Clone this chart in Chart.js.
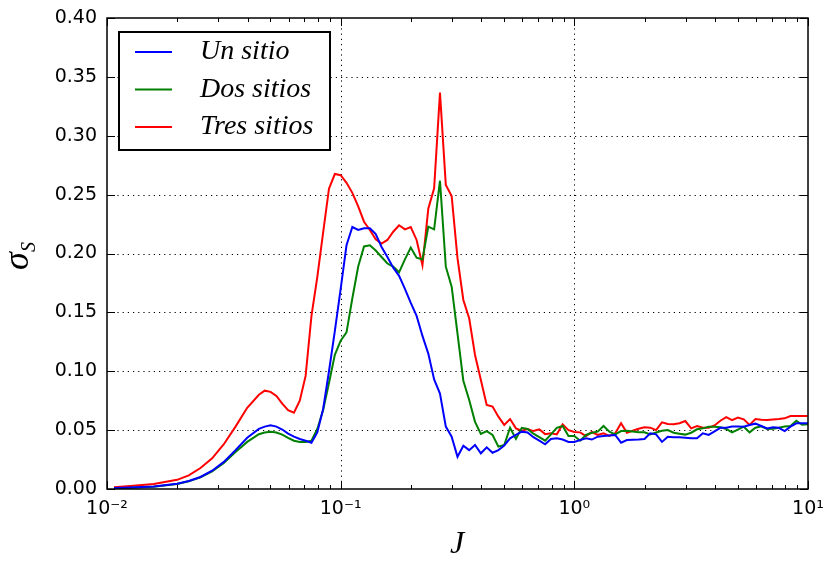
<!DOCTYPE html>
<html>
<head>
<meta charset="utf-8">
<script src="https://cdn.jsdelivr.net/npm/chart.js@4.4.0/dist/chart.umd.min.js"></script>
<style>
  html, body { margin: 0; padding: 0; background: #fff; }
</style>
</head>
<body>
<canvas id="sigma" width="827" height="561"></canvas>
<script>
// log10(J) sample positions
const logJ = [
  -1.97, -1.9, -1.8, -1.7, -1.65, -1.6, -1.55, -1.5, -1.45, -1.4, -1.35,
  -1.325, -1.3, -1.275, -1.25, -1.225, -1.2, -1.175, -1.15, -1.125, -1.1,
  -1.075, -1.05, -1.025, -1.0, -0.975, -0.95, -0.925, -0.9, -0.875, -0.85,
  -0.825, -0.8, -0.775, -0.75, -0.725, -0.7, -0.675, -0.65, -0.625, -0.6,
  -0.575, -0.55, -0.525, -0.5, -0.475, -0.45, -0.425, -0.4, -0.375, -0.35,
  -0.325, -0.3, -0.275, -0.25, -0.225, -0.2, -0.175, -0.15, -0.125, -0.1,
  -0.075, -0.05, -0.025, 0, 0.025, 0.05, 0.075, 0.1, 0.125, 0.15,
  0.175, 0.2, 0.225, 0.25, 0.275, 0.3, 0.325, 0.35, 0.375, 0.4,
  0.425, 0.45, 0.475, 0.5, 0.525, 0.55, 0.575, 0.6, 0.625, 0.65,
  0.675, 0.7, 0.725, 0.75, 0.775, 0.8, 0.825, 0.85, 0.875, 0.9,
  0.925, 0.95, 0.975, 1.0
];

const unSitio = [
  0.0008, 0.0012, 0.0021, 0.0045, 0.0068, 0.0102, 0.0155, 0.023, 0.033, 0.0435, 0.051,
  0.053, 0.0542, 0.053, 0.0505, 0.047, 0.0445, 0.0425, 0.041, 0.0393, 0.048,
  0.068, 0.10, 0.134, 0.17, 0.207, 0.2225, 0.220, 0.2215, 0.2215, 0.2165,
  0.2055, 0.197, 0.188, 0.181, 0.170, 0.158, 0.147, 0.13, 0.115, 0.093,
  0.081, 0.053, 0.0444, 0.0274, 0.0368, 0.033, 0.0374, 0.0303, 0.0354, 0.0308,
  0.033, 0.037, 0.043, 0.046, 0.0487, 0.048, 0.044, 0.041, 0.038, 0.0425,
  0.043, 0.042, 0.040, 0.040, 0.0416, 0.043, 0.042, 0.0444, 0.045, 0.0455,
  0.0459, 0.0393, 0.0416, 0.0418, 0.042, 0.0425, 0.0473, 0.0464, 0.040, 0.0444,
  0.0439, 0.0439, 0.0435, 0.043, 0.043, 0.0473, 0.0459, 0.049, 0.052, 0.052,
  0.053, 0.053, 0.0529, 0.0544, 0.0555, 0.0535, 0.0515, 0.0525, 0.052, 0.0492,
  0.053, 0.0558, 0.0558, 0.0558
];

const dosSitios = [
  0.0008, 0.0011, 0.0020, 0.0042, 0.0065, 0.0100, 0.0150, 0.022, 0.0315, 0.040, 0.0465,
  0.048, 0.0487, 0.048, 0.0462, 0.0435, 0.041, 0.040, 0.040, 0.041, 0.051,
  0.067, 0.09, 0.114, 0.126, 0.133, 0.162, 0.189, 0.206, 0.207, 0.2025,
  0.197, 0.1915, 0.1888, 0.184, 0.195, 0.205, 0.1964, 0.195, 0.2228, 0.2205,
  0.2618, 0.1888, 0.1718, 0.132, 0.092, 0.0756, 0.057, 0.0467, 0.0492, 0.0459,
  0.036, 0.0374, 0.052, 0.0425, 0.052, 0.051, 0.047, 0.044, 0.041, 0.0464,
  0.052, 0.0535, 0.045, 0.045, 0.041, 0.0459, 0.0478, 0.0487, 0.0535, 0.0487,
  0.0464, 0.0492, 0.0495, 0.0488, 0.0481, 0.0481, 0.0464, 0.048, 0.0495, 0.050,
  0.0478, 0.047, 0.0462, 0.0478, 0.0507, 0.0515, 0.0529, 0.0529, 0.0525, 0.051,
  0.048, 0.0505, 0.0529, 0.0481, 0.052, 0.0533, 0.051, 0.0512, 0.052, 0.053,
  0.0535, 0.058, 0.0545, 0.0549
];

const tresSitios = [
  0.0015, 0.0025, 0.0042, 0.0078, 0.0115, 0.0178, 0.026, 0.038, 0.053, 0.069, 0.080,
  0.0835, 0.0825, 0.079, 0.0725, 0.067, 0.0648, 0.075, 0.096, 0.147, 0.18,
  0.218, 0.255, 0.2675, 0.2665, 0.26, 0.2515, 0.24, 0.227, 0.220, 0.212,
  0.2085, 0.2115, 0.2185, 0.224, 0.2205, 0.2225, 0.2115, 0.19, 0.238, 0.2554,
  0.3366, 0.2582, 0.2488, 0.196, 0.1605, 0.145, 0.1138, 0.0926, 0.0713, 0.070,
  0.0614, 0.0544, 0.0594, 0.0515, 0.0495, 0.051, 0.0492, 0.0507, 0.0466, 0.0473,
  0.0464, 0.0549, 0.050, 0.0484, 0.0481, 0.045, 0.0484, 0.0459, 0.0473, 0.045,
  0.0473, 0.0558, 0.0478, 0.0495, 0.0512, 0.0524, 0.0521, 0.050, 0.0566, 0.0552,
  0.0549, 0.0558, 0.0577, 0.0515, 0.0535, 0.0521, 0.0521, 0.054, 0.058, 0.061,
  0.0585, 0.0606, 0.0592, 0.0544, 0.0594, 0.0588, 0.0586, 0.059, 0.0594, 0.060,
  0.062, 0.062, 0.062, 0.062
];

const seriesNames = ['Un sitio', 'Dos sitios', 'Tres sitios'];
const seriesColors = ['#0000ff', '#008000', '#ff0000'];
const yTicks = [0, 0.05, 0.10, 0.15, 0.20, 0.25, 0.30, 0.35, 0.40];
const xDecades = [0.01, 0.1, 1, 10];
const xDecadeLabels = ['10\u207B\u00B2', '10\u207B\u00B9', '10\u2070', '10\u00B9'];

const J = logJ.map(e => Math.pow(10, e));
const toPoints = ys => J.map((x, i) => ({ x: x, y: ys[i] }));

// dotted grid, inward ticks, frame, legend and axis titles, matplotlib style
const mplLook = {
  id: 'mplLook',
  beforeDatasetsDraw(chart) {
    const { ctx, chartArea: a, scales: { x, y } } = chart;
    ctx.save();
    ctx.strokeStyle = '#000';
    ctx.lineWidth = 1;
    ctx.setLineDash([1.2, 4]);
    yTicks.forEach(v => {
      if (v <= 0 || v >= 0.4) return;
      const py = Math.round(y.getPixelForValue(v)) + 0.5;
      ctx.beginPath(); ctx.moveTo(a.left, py); ctx.lineTo(a.right, py); ctx.stroke();
    });
    xDecades.slice(1, -1).forEach(v => {
      const px = Math.round(x.getPixelForValue(v)) + 0.5;
      ctx.beginPath(); ctx.moveTo(px, a.top); ctx.lineTo(px, a.bottom); ctx.stroke();
    });
    ctx.restore();
  },
  afterDatasetsDraw(chart) {
    const { ctx, chartArea: a, scales: { x, y } } = chart;
    ctx.save();
    ctx.strokeStyle = '#000';
    ctx.lineWidth = 1;
    // y ticks, both sides
    yTicks.forEach(v => {
      const py = Math.round(y.getPixelForValue(v)) + 0.5;
      ctx.beginPath();
      ctx.moveTo(a.left, py); ctx.lineTo(a.left + 8, py);
      ctx.moveTo(a.right, py); ctx.lineTo(a.right - 8, py);
      ctx.stroke();
    });
    // x major + minor ticks, top and bottom
    for (let d = 0; d < xDecades.length; d++) {
      const base = xDecades[d];
      const px = Math.round(x.getPixelForValue(base)) + 0.5;
      ctx.beginPath();
      ctx.moveTo(px, a.bottom); ctx.lineTo(px, a.bottom - 8);
      ctx.moveTo(px, a.top); ctx.lineTo(px, a.top + 8);
      ctx.stroke();
      if (d === xDecades.length - 1) break;
      for (let m = 2; m <= 9; m++) {
        const mx = Math.round(x.getPixelForValue(base * m)) + 0.5;
        ctx.beginPath();
        ctx.moveTo(mx, a.bottom); ctx.lineTo(mx, a.bottom - 4);
        ctx.moveTo(mx, a.top); ctx.lineTo(mx, a.top + 4);
        ctx.stroke();
      }
    }
    // frame
    ctx.lineWidth = 1.5;
    ctx.strokeRect(a.left, a.top, a.right - a.left, a.bottom - a.top);

    // legend
    const lx = 119, ly = 32, lw = 211, lh = 118;
    ctx.fillStyle = '#fff';
    ctx.fillRect(lx, ly, lw, lh);
    ctx.lineWidth = 2;
    ctx.strokeStyle = '#000';
    ctx.strokeRect(lx, ly, lw, lh);
    ctx.font = 'italic 28px "Liberation Serif"';
    ctx.textBaseline = 'middle';
    ctx.textAlign = 'left';
    chart.data.datasets.forEach((ds, i) => {
      const ry = 52 + i * 37.5;
      ctx.strokeStyle = ds.borderColor;
      ctx.lineWidth = 2;
      ctx.beginPath(); ctx.moveTo(135, ry); ctx.lineTo(172, ry); ctx.stroke();
      ctx.fillStyle = '#000';
      ctx.fillText(ds.label, 200, ry);
    });

    // axis titles
    ctx.fillStyle = '#000';
    ctx.textBaseline = 'alphabetic';
    ctx.font = 'italic 32px "Liberation Serif"';
    ctx.textAlign = 'center';
    ctx.fillText('J', 457, 553);

    ctx.translate(28, 256);
    ctx.rotate(-Math.PI / 2);
    ctx.font = 'italic 36px "Liberation Serif"';
    const sw = ctx.measureText('\u03C3').width;
    ctx.font = 'italic 20px "Liberation Serif"';
    const subw = ctx.measureText('S').width;
    const start = -(sw + subw) / 2;
    ctx.textAlign = 'left';
    ctx.font = 'italic 36px "Liberation Serif"';
    ctx.fillText('\u03C3', start, 0);
    ctx.font = 'italic 20px "Liberation Serif"';
    ctx.fillText('S', start + sw, 7);
    ctx.restore();
  }
};

new Chart(document.getElementById('sigma'), {
  type: 'line',
  data: {
    datasets: [
      { label: seriesNames[0], data: toPoints(unSitio), borderColor: seriesColors[0] },
      { label: seriesNames[1], data: toPoints(dosSitios), borderColor: seriesColors[1] },
      { label: seriesNames[2], data: toPoints(tresSitios), borderColor: seriesColors[2] }
    ]
  },
  options: {
    responsive: false,
    animation: false,
    devicePixelRatio: 1,
    layout: { padding: { top: 18, right: 19, left: 0, bottom: 0 } },
    elements: {
      line: { borderWidth: 2, tension: 0, fill: false },
      point: { radius: 0 }
    },
    plugins: { legend: { display: false }, tooltip: { enabled: false } },
    scales: {
      x: {
        type: 'logarithmic',
        min: 0.01,
        max: 10,
        afterBuildTicks: axis => {
          axis.ticks = xDecades.map(v => ({ value: v }));
        },
        afterFit: axis => {
          axis.height = 72;
          axis.paddingLeft = 0;
          axis.paddingRight = 0;
        },
        grid: { display: false, drawTicks: false },
        border: { display: false },
        ticks: {
          autoSkip: false,
          maxRotation: 0,
          padding: 9,
          color: '#000',
          font: { family: '"DejaVu Sans"', size: 19 },
          callback: v => {
            const k = xDecades.findIndex(d => Math.abs(d - v) / d < 1e-6);
            return k >= 0 ? xDecadeLabels[k] : '';
          }
        }
      },
      y: {
        min: 0,
        max: 0.4,
        afterBuildTicks: axis => {
          axis.ticks = yTicks.map(v => ({ value: v }));
        },
        afterFit: axis => {
          axis.width = 107;
          axis.paddingTop = 0;
          axis.paddingBottom = 0;
        },
        grid: { display: false, drawTicks: false },
        border: { display: false },
        ticks: {
          padding: 10,
          color: '#000',
          font: { family: '"DejaVu Sans"', size: 19 },
          callback: v => v.toFixed(2)
        }
      }
    }
  },
  plugins: [mplLook]
});
</script>
</body>
</html>
